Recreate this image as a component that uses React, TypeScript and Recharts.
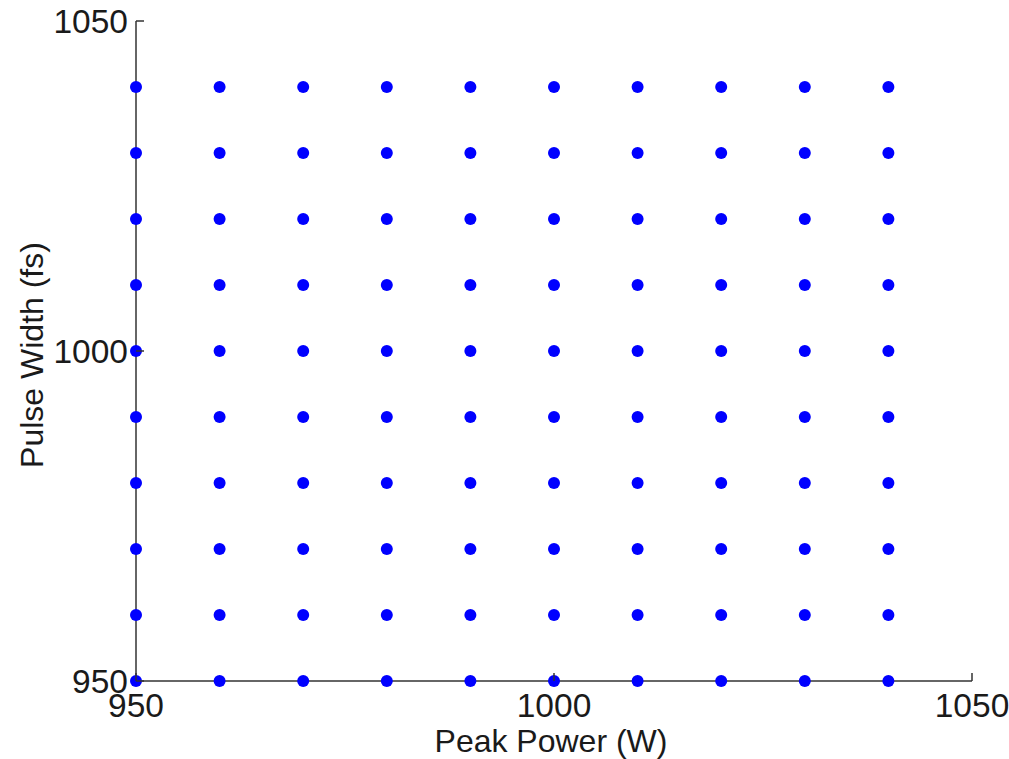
import React from 'react';
import { ScatterChart, Scatter, XAxis, YAxis, Label } from 'recharts';

const peakPower = [950, 960, 970, 980, 990, 1000, 1010, 1020, 1030, 1040];
const pulseWidth = [950, 960, 970, 980, 990, 1000, 1010, 1020, 1030, 1040];
const xTicks = [950, 1000, 1050];
const yTicks = [950, 1000, 1050];
const xTitle = 'Peak Power (W)';
const yTitle = 'Pulse Width (fs)';

const data = peakPower.flatMap((p) => pulseWidth.map((w) => ({ power: p, width: w })));

const FONT = '"Liberation Sans", Arial, Helvetica, sans-serif';
const AXIS = '#333333';
const TEXT = '#1a1a1a';
const FS = 32;
const TFS = 33.5;

const XTick = (props: any) => {
  const { x, y, payload } = props;
  return (
    <g>
      <line x1={x} y1={y} x2={x} y2={y - 8} stroke={AXIS} strokeWidth={1.5} />
      <text x={x} y={y + 36} textAnchor="middle" fontSize={TFS} fontFamily={FONT} fill={TEXT}>
        {payload.value}
      </text>
    </g>
  );
};

const YTick = (props: any) => {
  const { x, y, payload } = props;
  return (
    <g>
      <line x1={x} y1={y} x2={x + 8} y2={y} stroke={AXIS} strokeWidth={1.5} />
      <text x={x - 8} y={y + 12} textAnchor="end" fontSize={TFS} fontFamily={FONT} fill={TEXT}>
        {payload.value}
      </text>
    </g>
  );
};

const Dot = (props: any) => {
  const { cx, cy } = props;
  return <circle cx={cx} cy={cy} r={6} fill="#0000ff" />;
};

export default function App() {
  return (
    <div style={{ position: 'absolute', left: 0, top: 0, width: 1009, height: 759, background: '#fff' }}>
      <ScatterChart width={1009} height={759} margin={{ top: 21, right: 37, left: 56, bottom: 18 }}>
        <XAxis
          type="number"
          dataKey="power"
          domain={[950, 1050]}
          ticks={xTicks}
          interval={0}
          tickSize={0}
          tickMargin={0}
          tickLine={false}
          tick={<XTick />}
          height={60}
          stroke={AXIS}
          strokeWidth={1.5}
        >
          <Label
            content={(p: any) => {
              const vb = p.viewBox || { x: 136, y: 681, width: 836, height: 60 };
              return (
                <text x={vb.x + vb.width / 2 - 3} y={vb.y + 71} textAnchor="middle" fontSize={FS} fontFamily={FONT} fill={TEXT}>
                  {xTitle}
                </text>
              );
            }}
          />
        </XAxis>
        <YAxis
          type="number"
          dataKey="width"
          domain={[950, 1050]}
          ticks={yTicks}
          interval={0}
          tickSize={0}
          tickMargin={0}
          tickLine={false}
          tick={<YTick />}
          width={80}
          stroke={AXIS}
          strokeWidth={1.5}
        >
          <Label
            content={(p: any) => {
              const vb = p.viewBox || { x: 56, y: 21, width: 80, height: 660 };
              const cx = vb.x - 13;
              const cy = vb.y + vb.height / 2 + 4;
              return (
                <text x={cx} y={cy} transform={`rotate(-90, ${cx}, ${cy})`} textAnchor="middle" fontSize={FS} fontFamily={FONT} fill={TEXT}>
                  {yTitle}
                </text>
              );
            }}
          />
        </YAxis>
        <Scatter data={data} shape={<Dot />} isAnimationActive={false} />
      </ScatterChart>
    </div>
  );
}
